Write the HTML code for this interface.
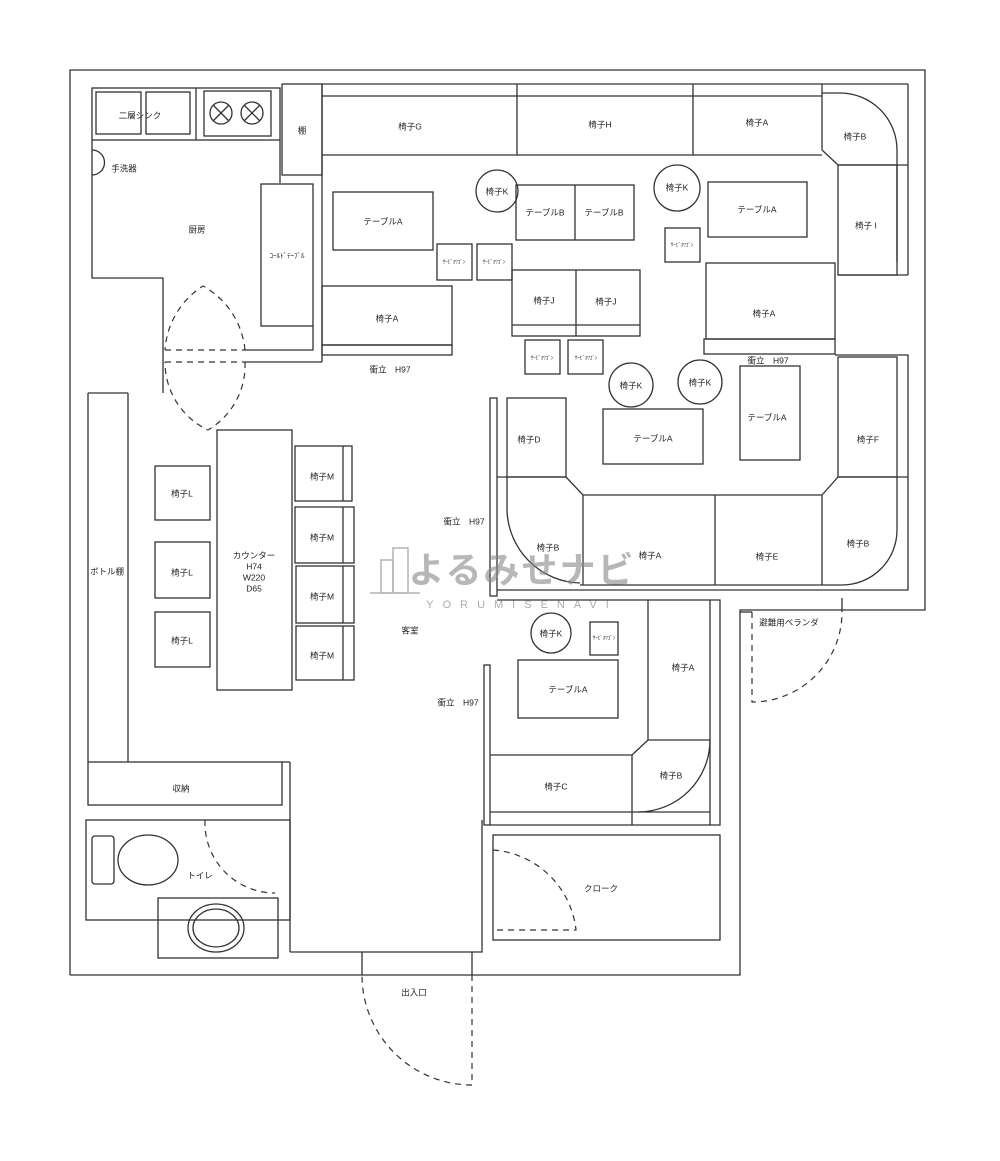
<!DOCTYPE html>
<html><head><meta charset="utf-8"><style>
html,body{margin:0;padding:0;background:#fff;}
svg{display:block;}
text{font-family:"Liberation Sans","Noto Sans CJK JP",sans-serif;font-size:8.5px;fill:#222;text-anchor:middle;dominant-baseline:middle;}
.s{fill:none;stroke:#333;stroke-width:1.3;}
.d{fill:none;stroke:#333;stroke-width:1.2;stroke-dasharray:6 5;}
</style></head><body>
<svg width="1000" height="1161" viewBox="0 0 1000 1161">
<g class="s">
<polyline points="70,975 70,70 925,70 925,610 740,610 740,975 70,975"/>
<rect x="92" y="88" width="188" height="52"/>
<rect x="96" y="92" width="45" height="42"/><rect x="146" y="92" width="44" height="42"/>
<line x1="196" y1="88" x2="196" y2="140"/>
<rect x="204" y="91" width="67" height="45"/>
<circle cx="221" cy="113" r="11"/><circle cx="252" cy="113" r="11"/>
<path d="M213,105 L229,121 M229,105 L213,121 M244,105 L260,121 M260,105 L244,121"/>
<polyline points="92,140 92,278 163,278 163,393"/>
<path d="M92,150 a12,12 0 0 1 0,25"/>
<line x1="280" y1="140" x2="280" y2="183"/>
<rect x="282" y="84" width="40" height="91"/>
<rect x="261" y="184" width="52" height="142"/>
<polyline points="313,326 313,350 245,350"/>
<line x1="245" y1="362" x2="322" y2="362"/>
<line x1="322" y1="84" x2="322" y2="362"/>
<line x1="322" y1="84" x2="908" y2="84"/>
<line x1="322" y1="96" x2="822" y2="96"/>
<line x1="322" y1="155" x2="822" y2="155"/>
<line x1="517" y1="84" x2="517" y2="155"/><line x1="693" y1="84" x2="693" y2="155"/>
<line x1="822" y1="84" x2="822" y2="150"/>
<path d="M822,93 L840,93 A57,57 0 0 1 897,150 L897,262"/>
<line x1="908" y1="84" x2="908" y2="275"/>
<polyline points="822,150 838,165 908,165"/>
<rect x="838" y="165" width="59" height="110"/>
<line x1="838" y1="275" x2="908" y2="275"/>
<rect x="333" y="192" width="100" height="58"/>
<rect x="516" y="185" width="118" height="55"/><line x1="575" y1="185" x2="575" y2="240"/>
<rect x="708" y="182" width="99" height="55"/>
<circle cx="497" cy="191" r="21"/><circle cx="677" cy="188" r="23"/>
<rect x="437" y="244" width="35" height="36"/><rect x="477" y="244" width="35" height="36"/>
<rect x="665" y="228" width="35" height="34"/>
<rect x="322" y="286" width="130" height="59"/><rect x="322" y="345" width="130" height="10"/>
<rect x="512" y="270" width="128" height="66"/><line x1="576" y1="270" x2="576" y2="336"/><line x1="512" y1="325" x2="640" y2="325"/>
<rect x="706" y="263" width="129" height="76"/><rect x="704" y="339" width="131" height="15"/>
<rect x="525" y="340" width="35" height="34"/><rect x="568" y="340" width="35" height="34"/>
<circle cx="631" cy="385" r="22"/><circle cx="700" cy="382" r="22"/>
<polyline points="835,355 908,355 908,590 497,590"/>
<rect x="838" y="357" width="59" height="120"/>
<rect x="740" y="366" width="60" height="94"/>
<rect x="603" y="409" width="100" height="55"/>
<rect x="490" y="398" width="7" height="198"/>
<rect x="507" y="398" width="59" height="79"/>
<line x1="497" y1="477" x2="566" y2="477"/>
<path d="M507,477 L507,510 A75,75 0 0 0 580,583"/>
<polyline points="566,477 583,495 822,495 838,477 908,477"/>
<line x1="583" y1="495" x2="583" y2="585"/>
<line x1="715" y1="495" x2="715" y2="585"/>
<line x1="822" y1="495" x2="822" y2="585"/>
<path d="M897,477 L897,530 A55,55 0 0 1 842,585 L580,585"/>
<polyline points="497,600 720,600 720,825 490,825"/>
<rect x="484" y="665" width="6" height="160"/>
<line x1="710" y1="600" x2="710" y2="825"/>
<line x1="648" y1="600" x2="648" y2="740"/>
<polyline points="490,755 632,755 648,740 710,740"/>
<line x1="632" y1="755" x2="632" y2="825"/>
<path d="M710,740 A72,72 0 0 1 638,812"/>
<line x1="490" y1="812" x2="710" y2="812"/>
<rect x="518" y="660" width="100" height="58"/>
<circle cx="551" cy="633" r="20"/>
<rect x="590" y="622" width="28" height="33"/>
<line x1="740" y1="612" x2="752" y2="612"/><line x1="842" y1="598" x2="842" y2="612"/>
<rect x="493" y="835" width="227" height="105"/>
<line x1="88" y1="393" x2="128" y2="393"/>
<line x1="88" y1="393" x2="88" y2="762"/><line x1="128" y1="393" x2="128" y2="762"/>
<rect x="217" y="430" width="75" height="260"/>
<rect x="155" y="466" width="55" height="54"/><rect x="155" y="542" width="55" height="56"/><rect x="155" y="612" width="55" height="55"/>
<rect x="295" y="446" width="57" height="55"/><line x1="343" y1="446" x2="343" y2="501"/>
<rect x="295" y="507" width="59" height="56"/><line x1="343" y1="507" x2="343" y2="563"/>
<rect x="296" y="566" width="58" height="57"/><line x1="343" y1="566" x2="343" y2="623"/>
<rect x="296" y="626" width="58" height="54"/><line x1="343" y1="626" x2="343" y2="680"/>
<rect x="88" y="762" width="194" height="43"/>
<line x1="282" y1="762" x2="290" y2="762"/><line x1="290" y1="762" x2="290" y2="952"/>
<rect x="86" y="820" width="204" height="100"/>
<rect x="92" y="836" width="22" height="48" rx="3"/>
<ellipse cx="148" cy="860" rx="30" ry="25"/>
<rect x="158" y="898" width="120" height="60"/>
<ellipse cx="216" cy="928" rx="28" ry="24"/><ellipse cx="216" cy="928" rx="23" ry="19"/>
<polyline points="290,952 482,952 482,820"/>
<line x1="362" y1="952" x2="362" y2="975"/><line x1="472" y1="952" x2="472" y2="975"/>
</g>
<g class="d">
<path d="M165,350 L245,350 M165,362 L245,362"/>
<path d="M245,350 A82,82 0 0 0 203,286 A82,82 0 0 0 165,350"/>
<path d="M245,362 A75,75 0 0 1 208,430 A75,75 0 0 1 165,362"/>
<path d="M205,820 A70,70 0 0 0 275,893"/>
<path d="M752,612 L752,702 A90,90 0 0 0 842,612"/>
<path d="M493,850 A90,90 0 0 1 576,930 L493,930"/>
<path d="M472,975 L472,1085 A110,110 0 0 1 362,975"/>
</g>
<text x="140" y="116">二層シンク</text>
<text x="124" y="169">手洗器</text>
<text x="197" y="230">厨房</text>
<text x="287" y="256" style="font-size:7px">ｺｰﾙﾄﾞﾃｰﾌﾞﾙ</text>
<text x="302" y="131">棚</text>
<text x="410" y="127">椅子G</text>
<text x="600" y="125">椅子H</text>
<text x="757" y="123">椅子A</text>
<text x="855" y="137">椅子B</text>
<text x="866" y="226">椅子 I</text>
<text x="497" y="192">椅子K</text>
<text x="677" y="188">椅子K</text>
<text x="383" y="222">テーブルA</text>
<text x="545" y="213">テーブルB</text>
<text x="604" y="213">テーブルB</text>
<text x="757" y="210">テーブルA</text>
<text x="454" y="262" style="font-size:5px">ｻｰﾋﾞｽﾜｺﾞﾝ</text>
<text x="494" y="262" style="font-size:5px">ｻｰﾋﾞｽﾜｺﾞﾝ</text>
<text x="682" y="245" style="font-size:5px">ｻｰﾋﾞｽﾜｺﾞﾝ</text>
<text x="387" y="319">椅子A</text>
<text x="544" y="301">椅子J</text>
<text x="606" y="302">椅子J</text>
<text x="764" y="314">椅子A</text>
<text x="390" y="370">衝立　H97</text>
<text x="768" y="361">衝立　H97</text>
<text x="542" y="358" style="font-size:5px">ｻｰﾋﾞｽﾜｺﾞﾝ</text>
<text x="586" y="358" style="font-size:5px">ｻｰﾋﾞｽﾜｺﾞﾝ</text>
<text x="631" y="386">椅子K</text>
<text x="700" y="383">椅子K</text>
<text x="767" y="418">テーブルA</text>
<text x="868" y="440">椅子F</text>
<text x="529" y="440">椅子D</text>
<text x="653" y="439">テーブルA</text>
<text x="464" y="522">衝立　H97</text>
<text x="548" y="548">椅子B</text>
<text x="650" y="556">椅子A</text>
<text x="767" y="557">椅子E</text>
<text x="858" y="544">椅子B</text>
<text x="789" y="623">避難用ベランダ</text>
<text x="551" y="634">椅子K</text>
<text x="604" y="638" style="font-size:5px">ｻｰﾋﾞｽﾜｺﾞﾝ</text>
<text x="683" y="668">椅子A</text>
<text x="568" y="690">テーブルA</text>
<text x="458" y="703">衝立　H97</text>
<text x="671" y="776">椅子B</text>
<text x="556" y="787">椅子C</text>
<text x="601" y="889">クローク</text>
<text x="107" y="572">ボトル棚</text>
<text x="182" y="494">椅子L</text>
<text x="182" y="573">椅子L</text>
<text x="182" y="641">椅子L</text>
<text x="254" y="556">カウンター</text>
<text x="254" y="567">H74</text>
<text x="254" y="578">W220</text>
<text x="254" y="589">D65</text>
<text x="322" y="477">椅子M</text>
<text x="322" y="538">椅子M</text>
<text x="322" y="597">椅子M</text>
<text x="322" y="656">椅子M</text>
<text x="410" y="631">客室</text>
<text x="181" y="789">収納</text>
<text x="200" y="876">トイレ</text>
<text x="414" y="993">出入口</text>
<g opacity="0.55" fill="none" stroke="#777" stroke-width="1.5">
<rect x="381" y="560" width="12" height="33"/><rect x="393" y="548" width="15" height="45"/>
<line x1="370" y1="593" x2="420" y2="593"/>
</g>
<text x="522" y="573" style="font-size:36px;font-weight:bold;fill:#888;opacity:0.6;letter-spacing:2px">よるみせナビ</text>
<text x="522" y="605" style="font-size:11px;fill:#888;opacity:0.7;letter-spacing:9px">YORUMISENAVI</text>
</svg>
</body></html>
